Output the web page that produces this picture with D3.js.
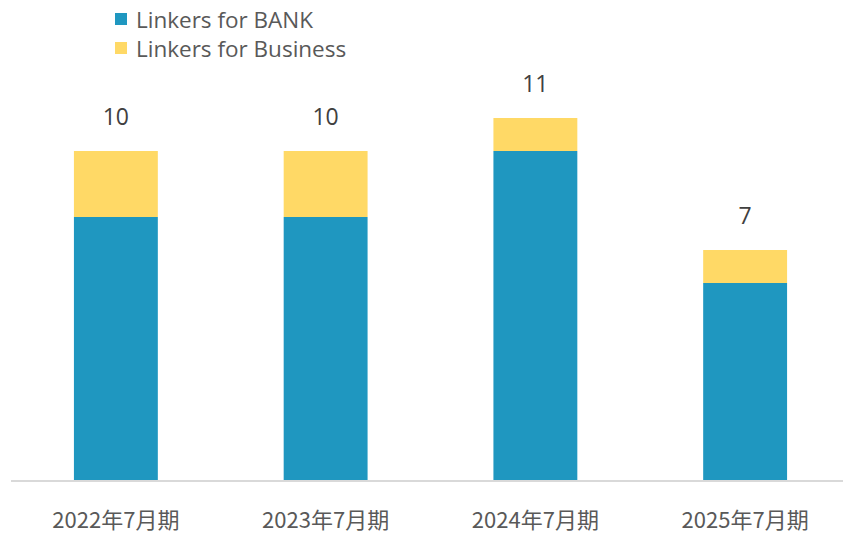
<!DOCTYPE html>
<html>
<meta charset="utf-8">
<head>
<style>
body { margin:0; padding:0; background:#fff; }
svg { display:block; }
text { font-family: "Open Sans", "Noto Sans CJK JP", sans-serif; fill:#595959; }
</style>
</head>
<body>
<svg></svg>
<script src="https://d3js.org/d3.v7.min.js"></script>
<script>

var periods = ["2022年7月期", "2023年7月期", "2024年7月期", "2025年7月期"];
var bank = [8, 8, 10, 6];
var business = [2, 2, 1, 1];
var seriesNames = ["Linkers for BANK", "Linkers for Business"];
var colors = ["#1f97c0", "#ffd966"];

var width = 843, height = 534;
var svg = d3.select("svg").attr("width", width).attr("height", height);

var rows = periods.map(function(p, i) {
  return { period: p, bank: bank[i], business: business[i] };
});

var x = d3.scaleBand().domain(periods).range([11, 850]).paddingInner(0.6).paddingOuter(0.3);
var y = d3.scaleLinear().domain([0, 10]).range([481, 151]);

var stack = d3.stack().keys(["bank", "business"])(rows);

svg.selectAll("g.layer")
  .data(stack)
  .enter().append("g")
    .attr("fill", function(d, i) { return colors[i]; })
  .selectAll("rect")
  .data(function(d) { return d; })
  .enter().append("rect")
    .attr("x", function(d) { return x(d.data.period); })
    .attr("width", x.bandwidth())
    .attr("y", function(d) { return y(d[1]); })
    .attr("height", function(d) { return y(d[0]) - y(d[1]); });

// axis line
svg.append("line")
  .attr("x1", 11).attr("x2", 843)
  .attr("y1", 481).attr("y2", 481)
  .attr("stroke", "#d9d9d9").attr("stroke-width", 2);

// category labels
svg.selectAll("text.cat")
  .data(periods)
  .enter().append("text")
    .attr("class", "cat")
    .attr("x", function(d) { return x(d) + x.bandwidth() / 2; })
    .attr("y", 528)
    .attr("text-anchor", "middle")
    .style("font-size", "22px")
    .style("font-family", "'Noto Sans CJK JP', sans-serif")
    .text(function(d) { return d; });

// totals
svg.selectAll("text.total")
  .data(rows)
  .enter().append("text")
    .attr("class", "total")
    .attr("x", function(d) { return x(d.period) + x.bandwidth() / 2; })
    .attr("y", function(d) { return y(d.bank + d.business) - 26; })
    .attr("text-anchor", "middle")
    .style("font-size", "23px")
    .style("fill", "#404040")
    .text(function(d) { return d.bank + d.business; });

// legend
var legend = svg.selectAll("g.legend")
  .data(seriesNames)
  .enter().append("g")
    .attr("transform", function(d, i) { return "translate(115," + (13 + i * 29) + ")"; });

legend.append("rect")
  .attr("width", 12).attr("height", 12)
  .attr("fill", function(d, i) { return colors[i]; });

legend.append("text")
  .attr("x", 21).attr("y", 15)
  .style("font-size", "22.5px")
  .text(function(d) { return d; });

</script>
</body>
</html>
